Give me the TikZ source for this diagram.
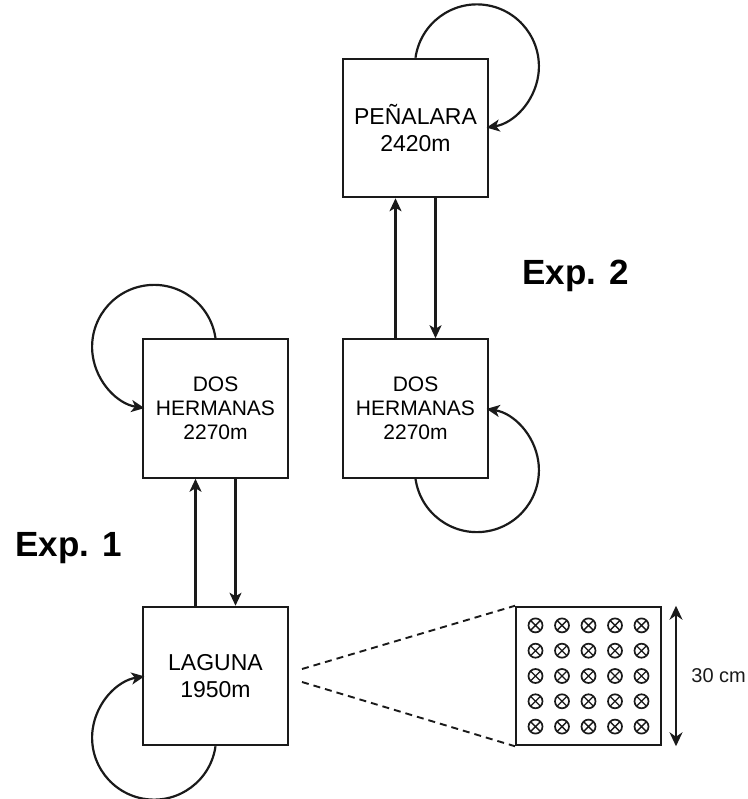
\documentclass[tikz,border=0pt]{standalone}
\usepackage{fontspec}
\setmainfont{Liberation Sans}
\usetikzlibrary{arrows.meta,positioning}
\definecolor{siteink}{HTML}{1A1A1A}
\tikzset{
  site/.style={draw=siteink, line width=2pt, minimum width=145pt, minimum height=138.5pt, align=center, font=\fontsize{23pt}{26.5pt}\selectfont},
  pair/.style={font=\fontsize{21pt}{24pt}\selectfont},
  sensor/.style={circle, draw=siteink, line width=1.7pt, minimum size=14pt, inner sep=0pt,
    path picture={\draw[line width=1.3pt] (path picture bounding box.north west) -- (path picture bounding box.south east)
      (path picture bounding box.north east) -- (path picture bounding box.south west);}},
  arr/.style={-{Stealth[length=13pt,width=12pt,inset=3.5pt]}, line width=2.2pt, color=siteink},
  dim/.style={{Stealth[length=14pt,width=13pt]}-{Stealth[length=14pt,width=13pt]}, line width=2.2pt, color=siteink},
  expl/.style={font=\fontsize{35pt}{40pt}\selectfont\bfseries, inner sep=0pt, anchor=base west},
  zoomline/.style={dash pattern=on 7pt off 5pt, line width=1.9pt, color=siteink},
}
\begin{document}
\begin{tikzpicture}[node distance=127pt and 53pt]
  \useasboundingbox (0,0) rectangle (747pt,-799pt);
  \node[site] (lag) at (215.5pt,-676pt) {LAGUNA\\1950m};
  \node[site, pair, above=of lag] (dhl) {DOS\\HERMANAS\\2270m};
  \node[site, pair, right=of dhl] (dhr) {DOS\\HERMANAS\\2270m};
  \node[site, above=140pt of dhr] (pen) {PEÑALARA\\2420m};
  \node[site, right=226pt of lag] (plot) {};
  \node[expl] (exp1) at (15pt,-556pt) {Exp. 1};
  \node[expl] (exp2) at (522pt,-284pt) {Exp. 2};
  % moves between sites
  \draw[arr] ([xshift=-20pt]lag.north) -- ([xshift=-20pt]dhl.south);
  \draw[arr] ([xshift=20pt]dhl.south) -- ([xshift=20pt]lag.north);
  \draw[arr] ([xshift=-20pt]dhr.north) -- ([xshift=-20pt]pen.south);
  \draw[arr] ([xshift=20pt]pen.south) -- ([xshift=20pt]dhr.north);
  % back to the same site
  \draw[arr] (dhl.north) arc[start angle=8, end angle=261, radius=62pt];
  \draw[arr] (pen.north) arc[start angle=172, end angle=-81, radius=62pt];
  \draw[arr] (dhr.south) arc[start angle=-172, end angle=81, radius=62pt];
  \draw[arr] (lag.south) arc[start angle=-8, end angle=-261, radius=62pt];
  % plot layout
  \coordinate (zoomup) at ([shift={(13pt,7pt)}]lag.east);
  \coordinate (zoomdown) at ([shift={(13pt,-6pt)}]lag.east);
  \draw[zoomline] (zoomup) -- (plot.north west);
  \draw[zoomline] (zoomdown) -- (plot.south west);
  \foreach \i in {-2,...,2}
    \foreach \j in {-2,...,2}
      \node[sensor] (s\i\j) at ([shift={(\i*26.5pt,\j*25.3pt)}]plot.center) {};
  \coordinate (dimtop) at ([xshift=14pt]plot.north east);
  \coordinate (dimbot) at ([xshift=14pt]plot.south east);
  \draw[dim] (dimtop) -- node[right=11pt, font=\fontsize{20pt}{24pt}\selectfont] (size) {30 cm} (dimbot);
\end{tikzpicture}
\end{document}
